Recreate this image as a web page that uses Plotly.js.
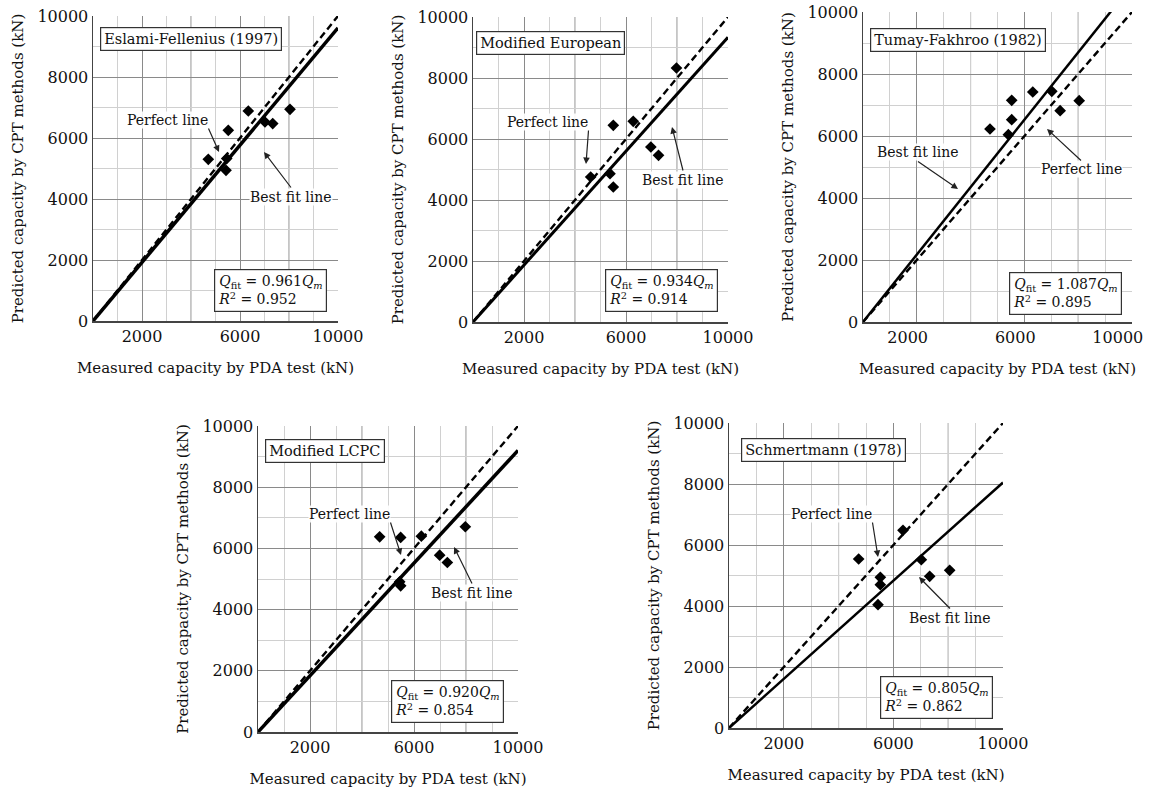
<!DOCTYPE html>
<html>
<head>
<meta charset="utf-8">
<script src="https://cdn.plot.ly/plotly-3.0.1.min.js"></script>
<style>html,body{margin:0;padding:0;background:#fff;}#chart{width:1152px;height:790px;}</style>
</head>
<body>
<div id="chart"></div>
<script>
// ---------- data ----------
const methods = ['Eslami-Fellenius (1997)', 'Modified European', 'Tumay-Fakhroo (1982)', 'Modified LCPC', 'Schmertmann (1978)'];
const fitSlopes = [0.961, 0.934, 1.087, 0.920, 0.805];
const rSquared = [0.952, 0.914, 0.895, 0.854, 0.862];

const measuredEF = [4706, 5457, 5429, 5522, 6339, 7020, 7335, 8041];
const predictedEF = [5302, 5325, 4941, 6252, 6885, 6525, 6472, 6941];
const measuredME = [4615, 5372, 5502, 5502, 6284, 6975, 7275, 7979];
const predictedME = [4754, 4863, 4426, 6448, 6579, 5738, 5464, 8328];
const measuredTF = [4720, 5404, 5528, 5528, 6311, 7019, 7329, 8037];
const predictedTF = [6226, 6043, 6527, 7151, 7419, 7441, 6817, 7140];
const measuredLC = [4679, 5449, 5487, 5487, 6282, 6987, 7282, 7974];
const predictedLC = [6379, 4907, 4776, 6358, 6401, 5780, 5540, 6707];
const measuredSC = [4732, 5438, 5523, 5523, 6350, 7019, 7324, 8054];
const predictedSC = [5541, 4044, 4699, 4940, 6481, 5519, 4973, 5169];

const lineX = [0, 10000];
const xTickVals = [2000, 6000, 10000];
const xTickText = ['2000', '6000', '10000'];
const yTickVals = [0, 2000, 4000, 6000, 8000, 10000];
const yTickText = ['0', '2000', '4000', '6000', '8000', '10000'];
const extraMajorGridX = [4000, 8000];

const measuredSets = [measuredEF, measuredME, measuredTF, measuredLC, measuredSC];
const predictedSets = [predictedEF, predictedME, predictedTF, predictedLC, predictedSC];

// ---------- layout geometry (pixels in 1152x790) ----------
const W = 1152, H = 790;
const boxes = [
  {l: 93, r: 338, t: 16, b: 321},
  {l: 473, r: 728, t: 17, b: 322},
  {l: 863, r: 1132, t: 12, b: 322},
  {l: 258, r: 518, t: 426, b: 732},
  {l: 729, r: 1003, t: 423, b: 728}
];
const fitWidths = [3.5, 3, 2.5, 3.5, 2.5];
const FONT = 'DejaVu Serif, Liberation Serif, serif';

// annotation placement in page pixels
const annPx = [
  {label: [191, 39], eq: [270, 290],
   perf: {c: [168, 119], tip: [219, 152], xa: 'right', ya: 'bottom'},
   best: {c: [291, 197], tip: [264, 152], xa: 'center', ya: 'top'}},
  {label: [550, 42.5], eq: [661, 290],
   perf: {c: [548, 121], tip: [586, 164], xa: 'right', ya: 'bottom'},
   best: {c: [683, 180], tip: [672, 127], xa: 'center', ya: 'top'}},
  {label: [958, 40.5], eq: [1065, 293],
   perf: {c: [1081, 170], tip: [1047, 129], xa: 'center', ya: 'top'},
   best: {c: [918, 152], tip: [958, 189], xa: 'center', ya: 'bottom'}},
  {label: [325, 451], eq: [447, 701],
   perf: {c: [350, 513], tip: [401, 555], xa: 'right', ya: 'bottom'},
   best: {c: [472, 593], tip: [454, 547], xa: 'center', ya: 'top'}},
  {label: [823, 450], eq: [936, 697],
   perf: {c: [832, 513], tip: [878, 557], xa: 'right', ya: 'bottom'},
   best: {c: [950, 618], tip: [919, 577], xa: 'center', ya: 'top'}}
];
const HW = 40.5, HH = 9.5; // half size of the arrow label boxes (px)

const traces = [];
const layout = {
  width: W, height: H,
  margin: {l: 0, r: 0, t: 0, b: 0},
  paper_bgcolor: '#fff', plot_bgcolor: '#fff',
  showlegend: false,
  font: {family: FONT, color: '#111'},
  annotations: [], shapes: []
};

boxes.forEach((bx, i) => {
  const n = i + 1;
  const xk = n === 1 ? 'x' : 'x' + n;
  const yk = n === 1 ? 'y' : 'y' + n;
  const xaName = n === 1 ? 'xaxis' : 'xaxis' + n;
  const yaName = n === 1 ? 'yaxis' : 'yaxis' + n;
  const toX = px => (px - bx.l) / (bx.r - bx.l) * 10000;
  const toY = py => (bx.b - py) / (bx.b - bx.t) * 10000;
  const atPageEdge = (n === 3);

  layout[xaName] = {
    domain: [bx.l / W, bx.r / W], anchor: yk, range: [0, 10000],
    tickmode: 'array', tickvals: xTickVals, ticktext: xTickText,
    ticklabelposition: atPageEdge ? 'outside left' : 'outside',
    ticklabelshift: atPageEdge ? 12 : 0,
    showgrid: true, gridcolor: '#8a8a8a', gridwidth: 1,
    minor: {tickmode: 'linear', tick0: 0, dtick: 1000, showgrid: true, gridcolor: '#d0d0d0', gridwidth: 1},
    showline: true, linecolor: '#444', linewidth: 1.5, zeroline: false, ticks: '',
    tickfont: {family: FONT, size: 16, color: '#111'},
    title: {text: 'Measured capacity by PDA test (kN)', font: {family: FONT, size: 15, color: '#111'}, standoff: 18},
    fixedrange: true
  };
  layout[yaName] = {
    domain: [1 - bx.b / H, 1 - bx.t / H], anchor: xk, range: [0, 10000],
    tickmode: 'array', tickvals: yTickVals, ticktext: yTickText,
    showgrid: true, gridcolor: '#8a8a8a', gridwidth: 1,
    minor: {tickmode: 'linear', tick0: 0, dtick: 1000, showgrid: true, gridcolor: '#d0d0d0', gridwidth: 1},
    showline: true, linecolor: '#444', linewidth: 1.5, zeroline: false, ticks: '',
    tickfont: {family: FONT, size: 16, color: '#111'},
    title: {text: 'Predicted capacity by CPT methods (kN)', font: {family: FONT, size: 15, color: '#111'}, standoff: 10},
    fixedrange: true
  };

  extraMajorGridX.forEach(gx => {
    layout.shapes.push({type: 'line', layer: 'below', xref: xk, yref: yk + ' domain', x0: gx, x1: gx, y0: 0, y1: 1,
      line: {color: '#8a8a8a', width: 1}});
  });

  traces.push({
    x: lineX, y: lineX.map(v => v * fitSlopes[i]), xaxis: xk, yaxis: yk,
    mode: 'lines', line: {color: '#000', width: fitWidths[i]}, hoverinfo: 'skip', name: 'Best fit line'
  });
  traces.push({
    x: lineX, y: lineX.slice(), xaxis: xk, yaxis: yk,
    mode: 'lines', line: {color: '#000', width: 2.4, dash: '7px,4px'}, hoverinfo: 'skip', name: 'Perfect line'
  });
  traces.push({
    x: measuredSets[i], y: predictedSets[i], xaxis: xk, yaxis: yk,
    mode: 'markers', marker: {symbol: 'diamond', size: 9, color: '#000'}, name: methods[i]
  });

  const p = annPx[i];
  layout.annotations.push({
    xref: xk, yref: yk, x: toX(p.label[0]), y: toY(p.label[1]), text: methods[i], showarrow: false,
    font: {family: FONT, size: 14.5, color: '#111'}, bgcolor: '#fff', bordercolor: '#333', borderwidth: 1.2, borderpad: 3
  });
  layout.annotations.push({
    xref: xk, yref: yk, x: toX(p.eq[0]), y: toY(p.eq[1]),
    text: '<i>Q</i><sub>fit</sub> = ' + fitSlopes[i].toFixed(3) + '<i>Q<sub>m</sub></i><br><i>R</i><sup>2</sup> = ' + rSquared[i].toFixed(3),
    showarrow: false, align: 'left',
    font: {family: FONT, size: 14, color: '#111'}, bgcolor: '#fff', bordercolor: '#333', borderwidth: 1.2, borderpad: 3
  });
  [['Perfect line', p.perf], ['Best fit line', p.best]].forEach(([txt, a]) => {
    const tx = a.c[0] + (a.xa === 'right' ? HW : a.xa === 'left' ? -HW : 0);
    const ty = a.c[1] + (a.ya === 'bottom' ? HH : -HH);
    layout.annotations.push({
      xref: xk, yref: yk, x: toX(a.tip[0]), y: toY(a.tip[1]),
      axref: xk, ayref: yk, ax: toX(tx), ay: toY(ty),
      xanchor: a.xa, yanchor: a.ya,
      text: txt, showarrow: true, arrowhead: 2, arrowsize: 1.1, arrowwidth: 1.2, arrowcolor: '#222',
      font: {family: FONT, size: 14, color: '#111'}, bgcolor: 'rgba(255,255,255,0.9)', borderpad: 0
    });
  });
});

Plotly.newPlot('chart', traces, layout, {displayModeBar: false, staticPlot: true});
</script>
</body>
</html>
